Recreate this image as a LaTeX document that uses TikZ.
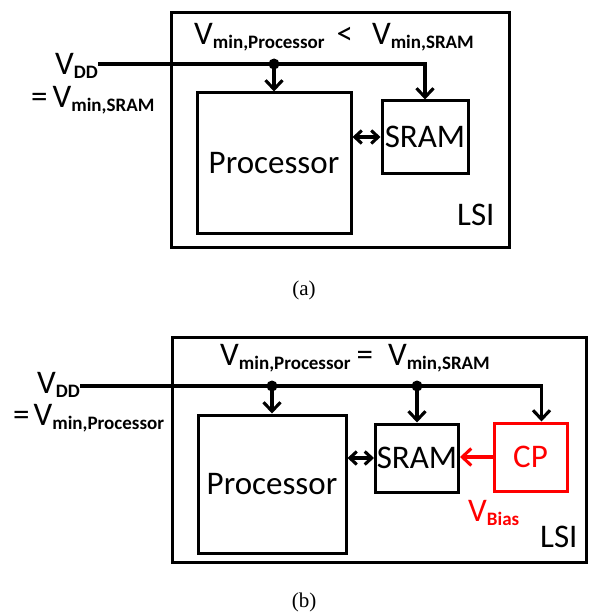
\documentclass[tikz,border=0pt]{standalone}
\usepackage{fontspec}
\setmainfont{Carlito}
\newfontfamily\capfont{Liberation Serif}
\usetikzlibrary{arrows.meta}
\newcommand\Vs[1]{V\raisebox{-4pt}{\fontsize{19}{20}\selectfont\bfseries #1}}
\begin{document}
\begin{tikzpicture}[x=1pt,y=-1pt,
  wire/.style={line width=3.1pt},
  box/.style={draw,line width=3pt,inner sep=0pt,font=\fontsize{33}{36}\selectfont},
  lbl/.style={inner sep=0pt,font=\fontsize{33}{36}\selectfont},
  arr/.style={-{Straight Barb[length=9pt,width=17pt]}},
  darr/.style={{Straight Barb[length=7pt,width=13pt]}-{Straight Barb[length=7pt,width=13pt]}},
  jdot/.style={circle,fill,inner sep=0pt,minimum size=11pt},
  captext/.style={inner sep=0pt,font=\capfont\fontsize{21}{24}\selectfont}]
\useasboundingbox (0,0) rectangle (590,615);

% ---------- (a) ----------
\node[box,minimum width=338pt,minimum height=234pt] (lsiA) at (340,130) {};
\node[box,minimum width=154pt,minimum height=140pt] (procA) at (274,163) {Processor};
\node[box,minimum width=86pt,minimum height=72pt] (sramA) at (425,137) {SRAM};
\node[lbl,anchor=base west] (lsiAt) at (457,225) {LSI};
\node[lbl,anchor=base west] (topA) at (194,45) {\Vs{min,Processor}\hspace{12pt}<\hspace{19pt}\Vs{min,SRAM}};
\node[lbl,anchor=base west] (vdda) at (55,75) {\Vs{DD}};
\node[lbl,anchor=base west] (eqa) at (31,108) {=\hspace{5pt}\Vs{min,SRAM}};
\node[jdot] (dotA) at (274,64) {};
\draw[wire] (vdda.east |- dotA) -- (dotA.center);
\draw[wire,arr] (dotA.center) -| (sramA.north);
\draw[wire,arr] (dotA.center) -- (procA.north);
\draw[wire,darr] (procA.east |- sramA.west) -- (sramA.west);
\node[captext] (capA) at (304,290) {(a)};

% ---------- (b) ----------
\node[box,minimum width=414pt,minimum height=225pt] (lsiB) at (379,449.5) {};
\node[box,minimum width=148pt,minimum height=138pt] (procB) at (272,484) {Processor};
\node[box,minimum width=83pt,minimum height=68pt] (sramB) at (417,458) {SRAM};
\node[box,red,text=red,minimum width=73pt,minimum height=68pt] (cpB) at (530.5,457) {CP};
\node[lbl,anchor=base west] (lsiBt) at (540,547) {LSI};
\node[lbl,anchor=base west,text=red] (vbias) at (468,521) {\Vs{Bias}};
\node[lbl,anchor=base west] (topB) at (220,365) {\Vs{min,Processor}\hspace{6pt}=\hspace{15pt}\Vs{min,SRAM}};
\node[lbl,anchor=base west] (vddb) at (37,393) {\Vs{DD}};
\node[lbl,anchor=base west] (eqb) at (13,425) {=\hspace{4pt}\Vs{min,Processor}};
\node[jdot] (dotB1) at (272,386) {};
\node[jdot] (dotB2) at (417,386) {};
\draw[wire] (vddb.east |- dotB1) -- (dotB1.center) -- (dotB2.center);
\draw[wire,arr] (dotB2.center) -| ([xshift=11pt]cpB.north);
\draw[wire,arr] (dotB1.center) -- (procB.north);
\draw[wire,arr] (dotB2.center) -- (sramB.north);
\draw[wire,darr] (procB.east |- sramB.west) -- (sramB.west);
\draw[wire,red,arr] (cpB.west) -- (sramB.east |- cpB.west);
\node[captext] (capB) at (304,602) {(b)};
\end{tikzpicture}
\end{document}
